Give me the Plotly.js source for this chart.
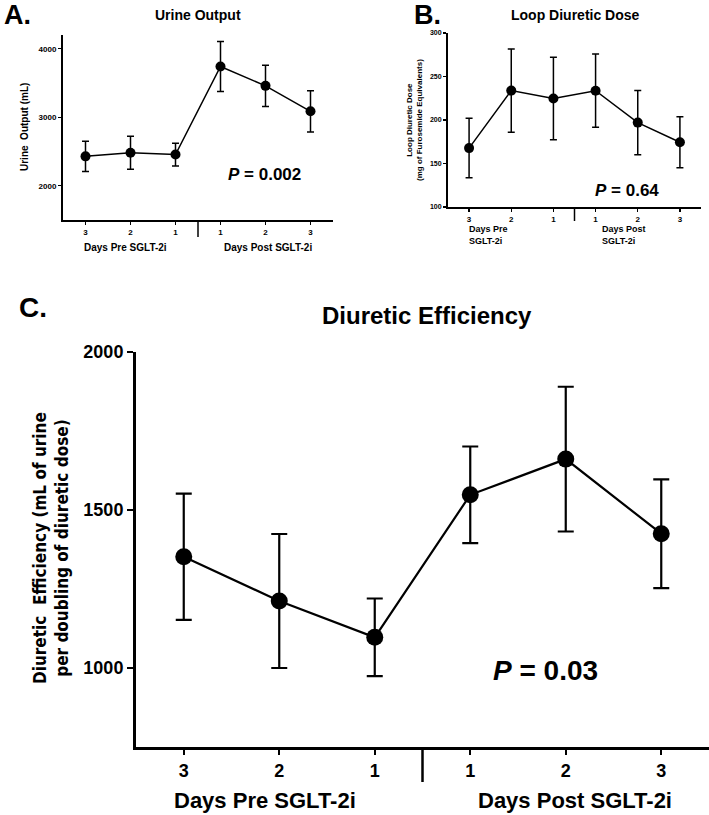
<!DOCTYPE html>
<html>
<head>
<meta charset="utf-8">
<script src="https://cdn.plot.ly/plotly-3.0.1.min.js"></script>
<style>html,body{margin:0;padding:0;background:#fff;}#chart{width:709px;height:815px;}</style>
</head>
<body>
<div id="chart"></div>
<script>
// ---- data ----
const dayLabels = ['3', '2', '1', '1', '2', '3'];
const groupLabels = ['Days Pre SGLT-2i', 'Days Post SGLT-2i'];

const urineMean = [2429, 2482, 2455, 3740, 3458, 3086];
const urineErr  = [222, 240, 166, 365, 300, 301];

const doseMean = [167.7, 233.8, 224.7, 233.7, 197, 174.4];
const doseErr  = [34.2, 47.8, 47.3, 42.1, 37, 29.4];

const effMean = [1352, 1212, 1097, 1548, 1661, 1425];
const effErr  = [200, 212, 123, 153, 229, 172];

const pValues = ['0.002', '0.64', '0.03'];

// ---- layout helpers ----
const W = 709, H = 815;
const px = x => x / W;
const py = y => 1 - y / H;
const idx = dayLabels.map((_, i) => i);

const ARIAL = 'Liberation Sans, Arial, sans-serif';
const NARROW = 'Liberation Sans Narrow, Arial Narrow, Liberation Sans, sans-serif';
const WIDE = 'DejaVu Sans Condensed, DejaVu Sans, Verdana, sans-serif';

function trace(y, err, xa, ya, msize, lw, cap, capw) {
  return {
    type: 'scatter', mode: 'lines+markers', x: idx, y: y,
    xaxis: xa, yaxis: ya,
    line: {color: '#000', width: lw},
    marker: {color: '#000', size: msize},
    error_y: {type: 'data', array: err, visible: true, color: '#000', thickness: capw, width: cap},
    hoverinfo: 'skip', showlegend: false, cliponaxis: false
  };
}

function xax(domain, lw, tl, fs, fam, anchor) {
  return {
    domain: domain, anchor: anchor, range: [-0.5, 5.5],
    tickmode: 'array', tickvals: idx, ticktext: dayLabels,
    showline: true, linecolor: '#000', linewidth: lw,
    ticks: 'outside', ticklen: tl, tickwidth: Math.max(1, lw * 0.7), tickcolor: '#000',
    showgrid: false, zeroline: false, fixedrange: true,
    tickfont: {family: fam, size: fs, color: '#000', weight: 'bold'}
  };
}
function yax(domain, range, tv, lw, tl, fs, fam, anchor) {
  return {
    domain: domain, anchor: anchor, range: range,
    tickmode: 'array', tickvals: tv,
    showline: true, linecolor: '#000', linewidth: lw,
    ticks: 'outside', ticklen: tl, tickwidth: Math.max(1, lw * 0.7), tickcolor: '#000',
    showgrid: false, zeroline: false, fixedrange: true,
    tickfont: {family: fam, size: fs, color: '#000', weight: 'bold'}
  };
}

const data = [
  trace(urineMean, urineErr, 'x', 'y', 10, 1.5, 3.5, 1.5),
  trace(doseMean, doseErr, 'x2', 'y2', 10, 1.5, 3.5, 1.5),
  trace(effMean, effErr, 'x3', 'y3', 17, 2.2, 8, 2.2)
];

function ann(text, x, y, size, fam, opts) {
  return Object.assign({
    text: text, x: px(x), y: py(y), xref: 'paper', yref: 'paper',
    showarrow: false, xanchor: 'center', yanchor: 'middle',
    font: {family: fam, size: size, color: '#000', weight: 'bold'}
  }, opts || {});
}

const annotations = [
  ann('A.', 2, 15, 27, ARIAL, {xanchor: 'left'}),
  ann('Urine Output', 198, 15, 14, ARIAL),
  ann('Urine  Output (mL)', 25, 127, 10, ARIAL, {textangle: -90}),
  ann('<i>P</i> = ' + pValues[0], 264, 175, 17, ARIAL),
  ann(groupLabels[0], 125, 247, 10, ARIAL),
  ann(groupLabels[1], 268, 247, 10, ARIAL),

  ann('B.', 412, 15, 27, ARIAL, {xanchor: 'left'}),
  ann('Loop Diuretic Dose', 575, 15, 14, ARIAL),
  ann('Loop Diuretic Dose<br>(mg of Furosemide Equivalents)', 414, 120, 8, ARIAL, {textangle: -90}),
  ann('<i>P</i> = ' + pValues[1], 627, 190, 17, ARIAL),
  ann('Days Pre<br>SGLT-2i', 467, 235, 9, ARIAL, {xanchor: 'left', align: 'left'}),
  ann('Days Post<br>SGLT-2i', 600, 235, 9, ARIAL, {xanchor: 'left', align: 'left'}),

  ann('C.', 17, 307, 28, NARROW, {xanchor: 'left'}),
  ann('Diuretic Efficiency', 427, 315, 24, NARROW),
  ann('Diuretic  Efficiency (mL of urine<br>per doubling of diuretic dose)', 51, 548, 17, WIDE, {textangle: -90}),
  ann('<i>P</i> = ' + pValues[2], 545, 670, 28, NARROW),
  ann(groupLabels[0], 265, 800, 22, NARROW),
  ann(groupLabels[1], 575, 800, 22, NARROW)
];

function divider(xa, yTop, yBot, w) {
  return {type: 'line', xref: xa, yref: 'paper', x0: 2.5, x1: 2.5, y0: py(yTop), y1: py(yBot),
          line: {color: '#000', width: w}};
}

const layout = {
  width: W, height: H, margin: {l: 0, r: 0, t: 0, b: 0},
  paper_bgcolor: '#fff', plot_bgcolor: 'rgba(0,0,0,0)', showlegend: false,
  xaxis:  xax([px(63), px(333)], 2, 3, 8, ARIAL, 'y'),
  yaxis:  yax([py(220), py(35)], [1500, 4200], [2000, 3000, 4000], 2, 3, 8, ARIAL, 'x'),
  xaxis2: xax([px(448), px(701)], 2, 3, 8, ARIAL, 'y2'),
  yaxis2: yax([py(207), py(33)], [100, 300], [100, 150, 200, 250, 300], 2, 3, 7, ARIAL, 'x2'),
  xaxis3: xax([px(136), px(709)], 3, 5, 18, NARROW, 'y3'),
  yaxis3: yax([py(747), py(352)], [750, 2000], [1000, 1500, 2000], 3, 6, 18, NARROW, 'x3'),
  annotations: annotations,
  shapes: [divider('x', 220, 237, 1.5), divider('x2', 207, 221, 1.5), divider('x3', 747, 782, 2.5)]
};

Plotly.newPlot('chart', data, layout, {staticPlot: true, displayModeBar: false});
</script>
</body>
</html>
